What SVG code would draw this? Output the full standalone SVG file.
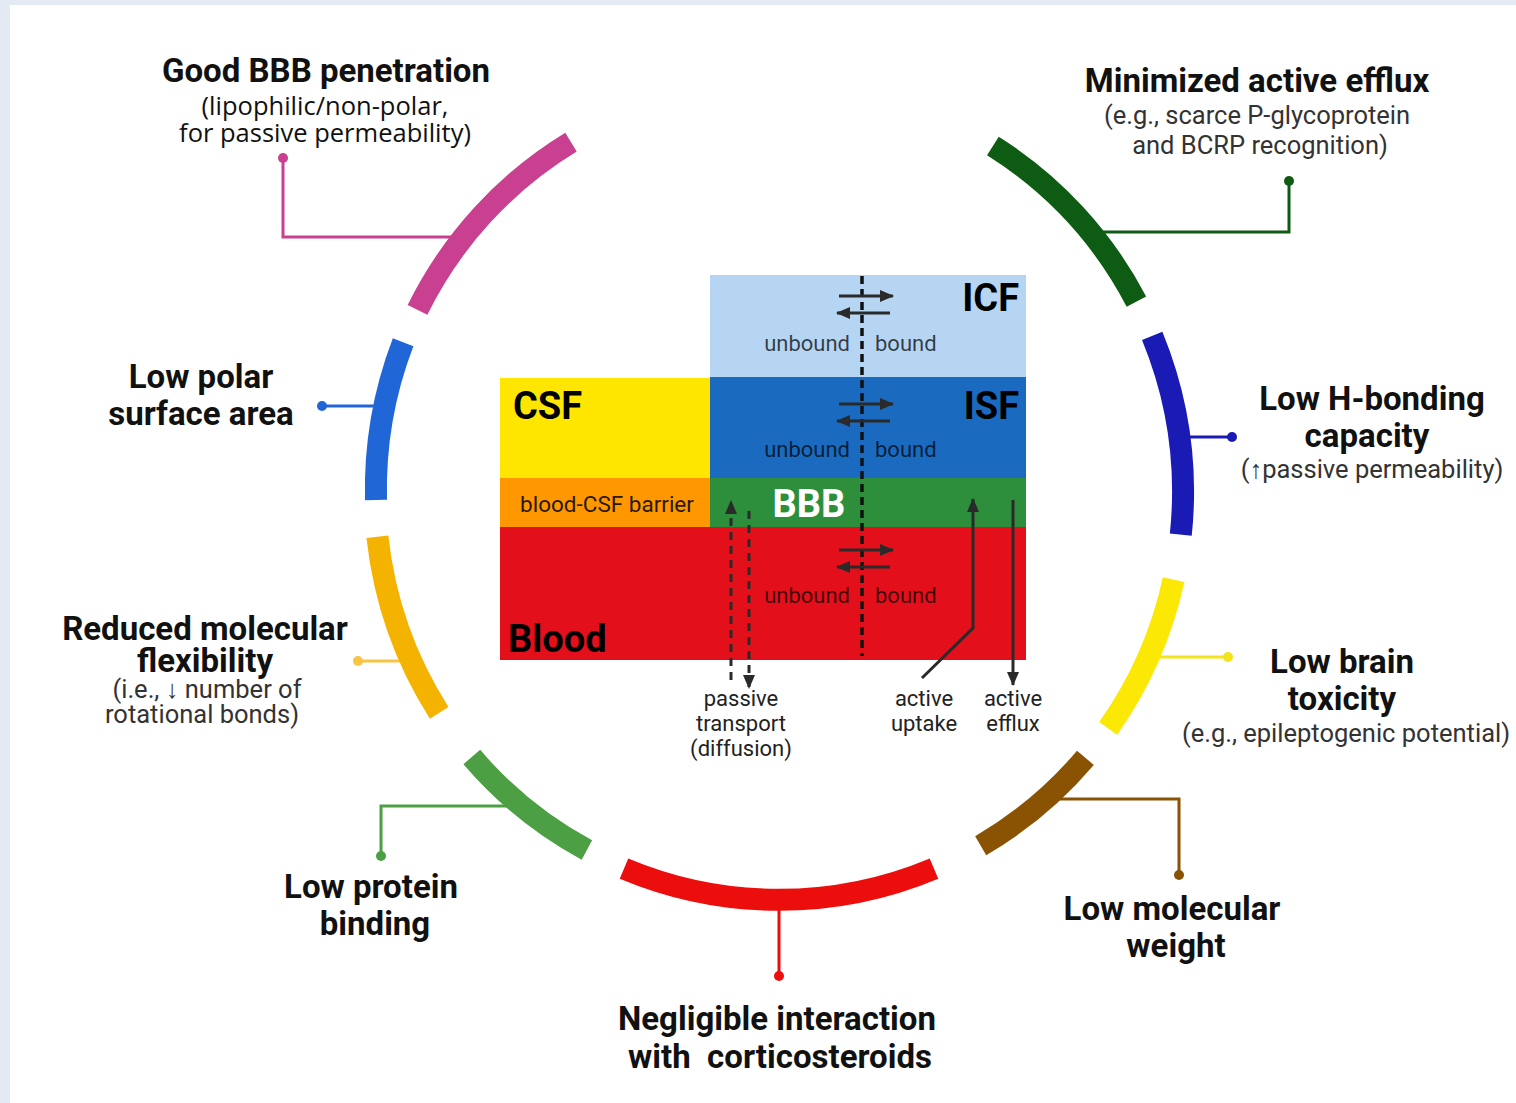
<svg xmlns="http://www.w3.org/2000/svg" width="1516" height="1103" viewBox="0 0 1516 1103">
  <defs>
    <style>
      .h { font-family: Roboto, "Liberation Sans", sans-serif; font-weight: 700; font-size: 33px; fill: #111; text-anchor: middle; }
      .s { font-family: Roboto, "Liberation Sans", sans-serif; font-weight: 400; font-size: 25.5px; fill: #333; text-anchor: middle; }
      .s2 { font-family: "Open Sans", "Liberation Sans", sans-serif; font-weight: 400; font-size: 25.5px; fill: #111; text-anchor: middle; }
      .zone { font-family: Roboto, "Liberation Sans", sans-serif; font-weight: 700; font-size: 38px; fill: #000; }
      .eq { font-family: Roboto, "Liberation Sans", sans-serif; font-size: 22px; fill: #000; fill-opacity: 0.72; }
      .tr { font-family: Roboto, "Liberation Sans", sans-serif; font-size: 22px; fill: #222; text-anchor: middle; }
      .arc { fill: none; stroke-width: 22; stroke-linecap: butt; }
      .lead { fill: none; stroke-width: 3; }
      .flow { fill: none; stroke: #2a2a2a; stroke-width: 3; }
    </style>
    <marker id="tip" viewBox="0 0 14 12" markerWidth="14" markerHeight="12" refX="13" refY="6" orient="auto" markerUnits="userSpaceOnUse">
      <path d="M0,0 L14,6 L0,12 z" fill="#2a2a2a"/>
    </marker>
  </defs>

  <!-- page background with light frame -->
  <rect x="0" y="0" width="1516" height="1103" fill="#e3eaf2"/>
  <rect x="10" y="5" width="1506" height="1098" fill="#ffffff"/>

  <!-- leader lines from the ring to each label -->
  <g id="connectors">
    <polyline class="lead" stroke="#c8408f" points="463,237 283,237 283,158"/>
    <circle cx="283" cy="158" r="5" fill="#c8408f"/>
    <polyline class="lead" stroke="#0e5b13" points="1090,232 1289,232 1289,181"/>
    <circle cx="1289" cy="181" r="5" fill="#0e5b13"/>
    <polyline class="lead" stroke="#2066d6" points="384,406 322,406"/>
    <circle cx="322" cy="406" r="5" fill="#2066d6"/>
    <polyline class="lead" stroke="#1a1ab4" points="1179,437 1232,437"/>
    <circle cx="1232" cy="437" r="5" fill="#1a1ab4"/>
    <polyline class="lead" stroke="#f7c444" points="411,661 358,661"/>
    <circle cx="358" cy="661" r="5" fill="#f7c444"/>
    <polyline class="lead" stroke="#f2e31a" points="1149,657 1228,657"/>
    <circle cx="1228" cy="657" r="5" fill="#f2e31a"/>
    <polyline class="lead" stroke="#4c9f43" points="521,806 381,806 381,856"/>
    <circle cx="381" cy="856" r="5" fill="#4c9f43"/>
    <polyline class="lead" stroke="#ec0d0d" points="779,900 779,976"/>
    <circle cx="779" cy="976" r="5" fill="#ec0d0d"/>
    <polyline class="lead" stroke="#8a5203" points="1045,799 1179,799 1179,875"/>
    <circle cx="1179" cy="875" r="5" fill="#8a5203"/>
  </g>

  <!-- ring segments: ellipse centre (779,492), rx 404, ry 408 -->
  <g id="ring">
    <path id="arc-bbb" class="arc" stroke="#c8408f" d="M417.5,309.9 A404,408 0 0 1 571.0,142.1"/>
    <path id="arc-psa" class="arc" stroke="#2066d6" d="M376.0,500.0 A404,408 0 0 1 403.1,342.3"/>
    <path id="arc-flex" class="arc" stroke="#f5b301" d="M439.2,712.9 A404,408 0 0 1 377.4,536.8"/>
    <path id="arc-pb" class="arc" stroke="#4c9f43" d="M586.9,850.0 A404,408 0 0 1 471.8,757.0"/>
    <path id="arc-cort" class="arc" stroke="#ec0d0d" d="M934.0,868.6 A404,408 0 0 1 624.0,868.6"/>
    <path id="arc-mw" class="arc" stroke="#8a5203" d="M1085.4,757.8 A404,408 0 0 1 980.7,845.7"/>
    <path id="arc-tox" class="arc" stroke="#fbe805" d="M1173.6,579.6 A404,408 0 0 1 1108.2,728.4"/>
    <path id="arc-hb" class="arc" stroke="#1a1ab4" d="M1152.2,335.9 A404,408 0 0 1 1180.8,534.6"/>
    <path id="arc-eff" class="arc" stroke="#0e5b13" d="M992.9,146.0 A404,408 0 0 1 1136.4,301.6"/>
  </g>

  <!-- compartment block in the middle -->
  <g id="compartments">
    <rect id="icf" x="710" y="275" width="316" height="102" fill="#b5d5f3"/>
    <rect id="isf" x="710" y="377" width="316" height="101" fill="#1a6bc0"/>
    <rect id="csf" x="500" y="378" width="210" height="100" fill="#ffe600"/>
    <rect id="bcsfb" x="500" y="478" width="210" height="49" fill="#ff9800"/>
    <rect id="bbb" x="710" y="478" width="316" height="49" fill="#2d8e3c"/>
    <rect id="blood" x="500" y="527" width="526" height="133" fill="#e3101c"/>

    <text class="zone" x="1019" y="311" text-anchor="end">ICF</text>
    <text class="zone" x="1019" y="419" text-anchor="end">ISF</text>
    <text class="zone" x="513" y="419">CSF</text>
    <text class="zone" x="508" y="652">Blood</text>
    <text class="zone" x="809" y="517" text-anchor="middle" style="fill:#ffffff">BBB</text>
    <text x="607" y="512" text-anchor="middle" style="font-family: Roboto, 'Liberation Sans', sans-serif; font-size: 22.5px; fill: #2a1800;">blood-CSF barrier</text>

    <text class="eq" x="850" y="351" text-anchor="end">unbound</text>
    <text class="eq" x="875" y="351">bound</text>
    <text class="eq" x="850" y="457" text-anchor="end">unbound</text>
    <text class="eq" x="875" y="457">bound</text>
    <text class="eq" x="850" y="603" text-anchor="end">unbound</text>
    <text class="eq" x="875" y="603">bound</text>
  </g>

  <!-- bound/unbound equilibria, divider and transport routes -->
  <g id="flows">
    <line x1="862" y1="276" x2="862" y2="656" stroke="#111" stroke-width="3.5" stroke-dasharray="8 5"/>
    <line class="flow" x1="839" y1="296" x2="893" y2="296" marker-end="url(#tip)"/>
    <line class="flow" x1="890" y1="313" x2="837" y2="313" marker-end="url(#tip)"/>
    <line class="flow" x1="839" y1="404" x2="893" y2="404" marker-end="url(#tip)"/>
    <line class="flow" x1="890" y1="421" x2="837" y2="421" marker-end="url(#tip)"/>
    <line class="flow" x1="839" y1="550" x2="893" y2="550" marker-end="url(#tip)"/>
    <line class="flow" x1="890" y1="567" x2="837" y2="567" marker-end="url(#tip)"/>

    <line class="flow" x1="731" y1="680" x2="731" y2="501" stroke-dasharray="8 6" marker-end="url(#tip)"/>
    <line class="flow" x1="749" y1="511" x2="749" y2="688" stroke-dasharray="8 6" marker-end="url(#tip)"/>
    <polyline class="flow" points="922,678 973,628 973,499" marker-end="url(#tip)"/>
    <line class="flow" x1="1013" y1="500" x2="1013" y2="685" marker-end="url(#tip)"/>

    <text class="tr" x="741" y="706">passive</text>
    <text class="tr" x="741" y="731">transport</text>
    <text class="tr" x="741" y="756">(diffusion)</text>
    <text class="tr" x="924" y="706">active</text>
    <text class="tr" x="924" y="731">uptake</text>
    <text class="tr" x="1013" y="706">active</text>
    <text class="tr" x="1013" y="731">efflux</text>
  </g>

  <!-- property labels around the ring -->
  <g id="label-bbb">
    <text class="h" x="326" y="82">Good BBB penetration</text>
    <text class="s2" x="325" y="115">(lipophilic/non-polar,</text>
    <text class="s2" x="325" y="142">for passive permeability)</text>
  </g>
  <g id="label-efflux">
    <text class="h" x="1257" y="92">Minimized active efflux</text>
    <text class="s" x="1257" y="124">(e.g., scarce P-glycoprotein</text>
    <text class="s" x="1260" y="154">and BCRP recognition)</text>
  </g>
  <g id="label-psa">
    <text class="h" x="201" y="388">Low polar</text>
    <text class="h" x="201" y="425">surface area</text>
  </g>
  <g id="label-hbond">
    <text class="h" x="1372" y="410">Low H-bonding</text>
    <text class="h" x="1367" y="447">capacity</text>
    <text class="s" x="1372" y="478">(↑passive permeability)</text>
  </g>
  <g id="label-flex">
    <text class="h" x="205" y="640">Reduced molecular</text>
    <text class="h" x="205" y="672">flexibility</text>
    <text class="s" x="207" y="698">(i.e., ↓ number of</text>
    <text class="s" x="202" y="723">rotational bonds)</text>
  </g>
  <g id="label-tox">
    <text class="h" x="1342" y="673">Low brain</text>
    <text class="h" x="1342" y="710">toxicity</text>
    <text class="s" x="1346" y="742">(e.g., epileptogenic potential)</text>
  </g>
  <g id="label-pb">
    <text class="h" x="371" y="898">Low protein</text>
    <text class="h" x="375" y="935">binding</text>
  </g>
  <g id="label-cort">
    <text class="h" x="777" y="1030">Negligible interaction</text>
    <text class="h" x="780" y="1068" style="white-space:pre">with  corticosteroids</text>
  </g>
  <g id="label-mw">
    <text class="h" x="1172" y="920">Low molecular</text>
    <text class="h" x="1176" y="957">weight</text>
  </g>
</svg>
